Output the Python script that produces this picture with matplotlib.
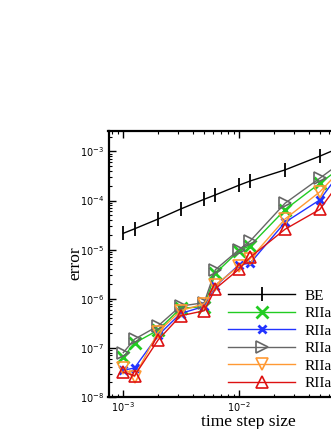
import numpy as np
import matplotlib
matplotlib.use("Agg")
import matplotlib.pyplot as plt
from matplotlib.ticker import LogLocator, NullFormatter

plt.rcParams["mathtext.fontset"] = "custom"
plt.rcParams["mathtext.rm"] = "Liberation Sans"
plt.rcParams["mathtext.it"] = "Liberation Sans:italic"
plt.rcParams["mathtext.bf"] = "Liberation Sans:bold"
plt.rcParams["mathtext.sf"] = "Liberation Sans"

# ---- data ----
dt = [1e-3, 1.25e-3, 2e-3, 3.125e-3, 5e-3, 6.25e-3, 1e-2, 1.25e-2, 2.5e-2, 5e-2, 1e-1]
err_BE = [2.15e-5, 2.65e-5, 4.2e-5, 6.7e-5, 1.06e-4, 1.3e-4, 2.05e-4, 2.5e-4, 4.2e-4, 8.0e-4, 1.6e-3]
err_R1 = [6.5e-8, 1.25e-7, 2.3e-7, 6.4e-7, 6.9e-7, 3.3e-6, 9.5e-6, 1.2e-5, 6.5e-5, 2.25e-4, 7.6e-4]
err_R2 = [3.5e-8, 3.9e-8, 1.8e-7, 5.0e-7, 7.0e-7, 1.8e-6, 4.9e-6, 5.3e-6, 3.6e-5, 1.03e-4, 9.5e-4]
err_R3 = [8.0e-8, 1.5e-7, 2.8e-7, 7.1e-7, 8.3e-7, 3.9e-6, 1.0e-5, 1.5e-5, 8.8e-5, 2.85e-4, 9.5e-4]
err_R4 = [3.9e-8, 2.6e-8, 2.1e-7, 5.7e-7, 7.9e-7, 1.9e-6, 4.6e-6, 6.5e-6, 4.2e-5, 1.5e-4, 8.5e-4]
err_R5 = [3.2e-8, 2.7e-8, 1.45e-7, 4.5e-7, 5.7e-7, 1.6e-6, 4.0e-6, 7.0e-6, 2.6e-5, 6.6e-5, 6.3e-4]
labels = ["BE", "RIIa-1", "RIIa-2", "RIIa-3", "RIIa-4", "RIIa-5"]

W, H = 331, 429
DPI = 100
fig = plt.figure(figsize=(W / DPI, H / DPI), dpi=DPI)

# axes geometry in pixels
x_left_px = 108.5
y_bot_px = 397.0
y_top_px = 131.0
px_per_dec_x = 115.7
xmin, xmax = 7.45e-4, 0.2
width_px = (np.log10(xmax) - np.log10(xmin)) * px_per_dec_x
ax = fig.add_axes([x_left_px / W, (H - y_bot_px) / H, width_px / W, (y_bot_px - y_top_px) / H])

serif = "Liberation Serif"

ax.plot(dt, err_BE, color="black", lw=1.0, marker="|", ms=10, mew=1.3, label=labels[0])
ax.plot(dt, err_R1, color="#22cc22", lw=1.0, marker="x", ms=8, mew=2.0, label=labels[1])
ax.plot(dt, err_R2, color="#2233ff", lw=1.0, marker="x", ms=5.5, mew=2.0, label=labels[2])
ax.plot(dt, err_R3, color="#666666", lw=1.0, marker=">", ms=9, mew=1.2, fillstyle="none", label=labels[3])
ax.plot(dt, err_R4, color="#ff9933", lw=1.0, marker="v", ms=9, mew=1.2, fillstyle="none", label=labels[4])
ax.plot(dt, err_R5, color="#dd1111", lw=1.0, marker="^", ms=9, mew=1.2, fillstyle="none", label=labels[5])

ax.set_xscale("log")
ax.set_yscale("log")
ax.set_xlim(xmin, xmax)
ax.set_ylim(1e-8, 2.6e-3)

for s in ax.spines.values():
    s.set_linewidth(1.6)

ax.xaxis.set_major_locator(LogLocator(base=10, numticks=10))
ax.xaxis.set_minor_locator(LogLocator(base=10, subs=np.arange(2, 10), numticks=20))
ax.yaxis.set_major_locator(LogLocator(base=10, numticks=10))
ax.yaxis.set_minor_locator(LogLocator(base=10, subs=np.arange(2, 10), numticks=20))
ax.xaxis.set_minor_formatter(NullFormatter())
ax.yaxis.set_minor_formatter(NullFormatter())

ax.tick_params(which="both", direction="in", top=True, right=True, labelsize=7)
ax.tick_params(which="major", length=5, width=1.0)
ax.tick_params(which="minor", length=2.5, width=0.8)
ax.tick_params(axis="x", which="major", pad=2)
ax.tick_params(axis="y", which="major", pad=3)

ax.set_xlabel("time step size", fontsize=12.5, family=serif, va="center")
ax.set_ylabel("error", fontsize=12.5, family=serif, va="center")
ax.xaxis.set_label_coords(248 / W, (H - 421.5) / H, transform=fig.transFigure)
ax.yaxis.set_label_coords(75 / W, (H - 263.5) / H, transform=fig.transFigure)

leg = ax.legend(loc="upper left", bbox_to_anchor=(228 / W, (H - 289) / H),
                bbox_transform=fig.transFigure, frameon=False,
                prop={"family": serif, "size": 11}, handlelength=4.4, handletextpad=0.6,
                labelspacing=0.25, borderpad=0, borderaxespad=0, numpoints=1)

fig.savefig("out.png", dpi=DPI)
